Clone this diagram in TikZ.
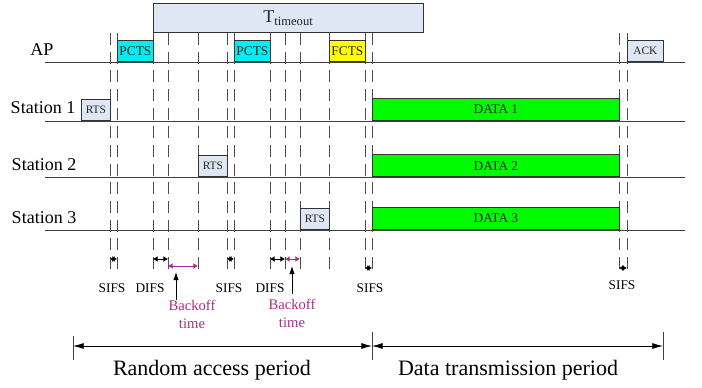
\documentclass[tikz,border=0pt]{standalone}
\usepackage{fontspec}
\setmainfont{Liberation Serif}
\usetikzlibrary{arrows.meta}
\definecolor{lightbox}{RGB}{222,231,243}
\definecolor{pcyan}{RGB}{0,238,238}
\definecolor{fyellow}{RGB}{255,255,0}
\definecolor{dgreen}{RGB}{0,250,0}
\definecolor{backoff}{RGB}{170,45,140}

\begin{document}
\begin{tikzpicture}[x=0.75pt,y=-0.75pt,
  line/.style={draw=black!75, line width=0.6pt},
  guide/.style={black!70, dash pattern=on 9pt off 5pt, line width=0.6pt},
  frame/.style={draw=black!80, line width=0.6pt, inner sep=0pt, anchor=south west, minimum height=15.75pt, text=black!85},
  shortbox/.style={frame, fill=lightbox, minimum width=21.75pt, font=\fontsize{8.5}{8.5}\selectfont},
  ctsbox/.style={frame, minimum width=27pt, font=\fontsize{10}{10}\selectfont},
  databox/.style={frame, fill=dgreen, minimum width=185.25pt, minimum height=16.5pt, font=\fontsize{10}{10}\selectfont},
  rowlabel/.style={font=\fontsize{13.5}{14}\selectfont},
  ifs/.style={font=\fontsize{10}{10}\selectfont},
  gap/.style={{Latex[length=3.5pt,width=4.5pt]}-{Latex[length=3.5pt,width=4.5pt]}, line width=0.7pt},
  bk/.style={text=backoff, font=\fontsize{11}{13.5}\selectfont, align=center},
  period/.style={{Latex[length=8pt,width=4.5pt]}-{Latex[length=8pt,width=4.5pt]}, line width=0.6pt},
  periodlabel/.style={font=\fontsize{16.5}{17}\selectfont}
]
\useasboundingbox (0,0) rectangle (702,388);
% slot boundaries
\foreach \x in {110,117,153,168,198,227,234,270,285,300,329,365,372,619,627}
  {\draw[guide] (\x,33) -- (\x,272);}
% time lines
\foreach \y in {62,121,177,230}
  {\draw[line] (45,\y) -- (685,\y);}
\node[rowlabel] (ap) at (42,50) {AP};
\node[rowlabel] (st1) at (43,108) {Station 1};
\node[rowlabel] (st2) at (44,165) {Station 2};
\node[rowlabel] (st3) at (44,218) {Station 3};
% frames
\node[frame, fill=lightbox, minimum width=202.5pt, minimum height=21.75pt, font=\fontsize{13.5}{13.5}\selectfont] (tout) at (153,33) {T\textsubscript{timeout}};
\node[shortbox] (rts1) at (81,121) {RTS};
\node[ctsbox, fill=pcyan] (pcts1) at (117,62) {PCTS};
\node[shortbox] (rts2) at (198,177) {RTS};
\node[ctsbox, fill=pcyan] (pcts2) at (234,62) {PCTS};
\node[shortbox] (rts3) at (300,230) {RTS};
\node[ctsbox, fill=fyellow] (fcts) at (329,62) {FCTS};
\node[databox] (data1) at (372,121) {DATA 1};
\node[databox] (data2) at (372,177) {DATA 2};
\node[databox] (data3) at (372,230) {DATA 3};
\node[shortbox, minimum width=27pt] (ack) at (627,62) {ACK};
% interframe spaces
\draw[gap] (110,259) -- (117,259);
\draw[gap] (153,259) -- (168,259);
\draw[gap, backoff] (168,266) -- (198,266);
\draw[gap] (227,259) -- (234,259);
\draw[gap] (270,259) -- (285,259);
\draw[gap, backoff] (285,259) -- (300,259);
\draw[gap] (365,268) -- (372,268);
\draw[gap] (619,268) -- (627,268);
\node[ifs] (sifs1) at (112,288) {SIFS};
\node[ifs] (difs1) at (150,288) {DIFS};
\node[ifs] (sifs2) at (229,288) {SIFS};
\node[ifs] (difs2) at (270,288) {DIFS};
\node[ifs] (sifs3) at (370,288) {SIFS};
\node[ifs] (sifs4) at (622,285) {SIFS};
\node[bk] (bk1) at (192,314) {Backoff\\time};
\node[bk] (bk2) at (292,313) {Backoff\\time};
\draw[-{Latex[length=6pt,width=4pt]}, line width=0.6pt] (176,300) -- (176,272);
\draw[-{Latex[length=6pt,width=4pt]}, line width=0.6pt] (bk2.north) -- (292,266);
% periods
\coordinate (p0) at (73,346);
\coordinate (p1) at (372,346);
\coordinate (p2) at (663,346);
\draw[line] (73,336) -- (73,360);
\draw[line] (372,332) -- (372,360);
\draw[line] (663,332) -- (663,360);
\draw[period] (p0) -- (p1);
\draw[period] (p1) -- (p2);
\node[periodlabel] (rap) at (212,370) {Random access period};
\node[periodlabel] (dtp) at (508,370) {Data transmission period};
\end{tikzpicture}
\end{document}
